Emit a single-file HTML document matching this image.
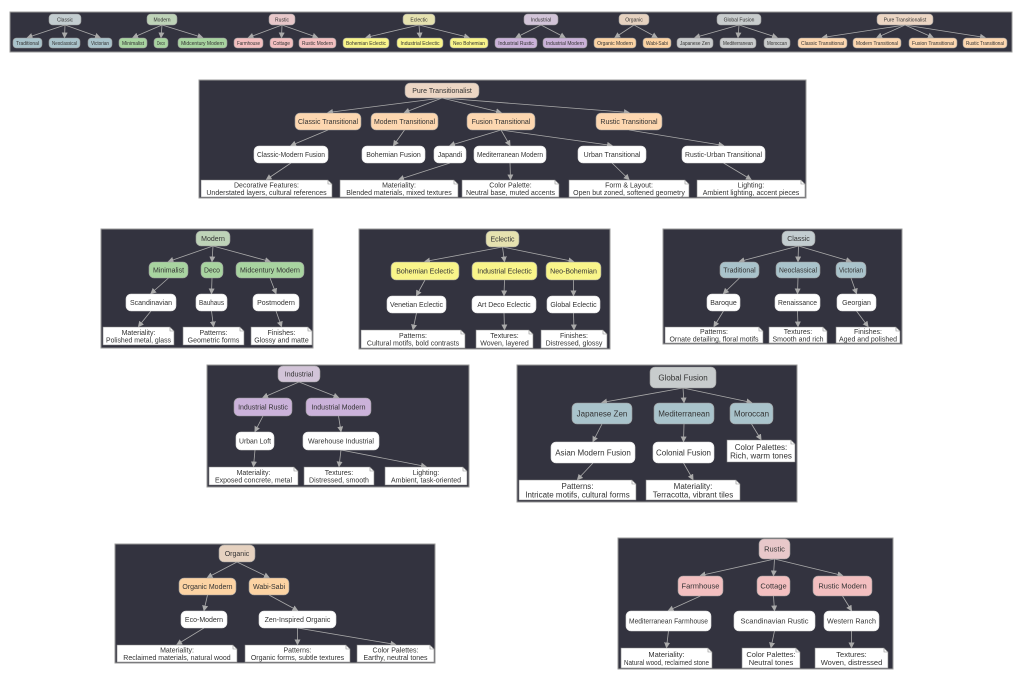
<!DOCTYPE html>
<html><head><meta charset="utf-8"><style>
html,body{margin:0;padding:0;background:#fff;width:1024px;height:682px;overflow:hidden}
svg text{font-family:"Liberation Sans",sans-serif;fill:#333}
</style></head><body>
<svg id="s" width="1024" height="682" xmlns="http://www.w3.org/2000/svg">
<defs><marker id="a" markerWidth="6" markerHeight="6" refX="5" refY="3" orient="auto" markerUnits="userSpaceOnUse"><path d="M0,0 L6,3 L0,6 z" fill="#aaa"/></marker></defs>
</svg>
<script>
var S=document.getElementById('s'),NS='http://www.w3.org/2000/svg';
function el(t,a,txt){var e=document.createElementNS(NS,t);for(var k in a)e.setAttribute(k,a[k]);if(txt!=null)e.textContent=txt;S.appendChild(e);return e;}
function fit(t,maxw){try{var l=t.getComputedTextLength();if(l>maxw){t.setAttribute('textLength',maxw);t.setAttribute('lengthAdjust','spacingAndGlyphs');}}catch(e){}}
var C={cl:'#a9c3cb',clr:'#c3cdd0',mo:'#a8d4a0',mor:'#bed3b8',ru:'#f3bfc0',rur:'#e8c8ca',ec:'#f9f58a',ecr:'#e6e2b0',in:'#cbb2da',inr:'#d2c4d8',or:'#fcd3a3',orr:'#e6d2c0',gf:'#c9cbcc',gfr:'#c8cccd',pt:'#fdd7b0',ptr:'#ecd6c4',w:'#fff'};
function panel(x1,y1,x2,y2,fs,nodes,edges){
 el('rect',{x:x1,y:y1,width:x2-x1,height:y2-y1,fill:'#33333f',stroke:'#999','stroke-width':1});
 var m={};nodes.forEach(function(n){m[n[0]]=n;});
 edges.forEach(function(e){var p=m[e[0]],c=m[e[1]];
  var px=(p[1]+p[3])/2,py=p[4],cx=(c[1]+c[3])/2,cy=c[2];
  el('line',{x1:px,y1:py,x2:cx,y2:cy-0.5,stroke:'#aaa','stroke-width':0.8,'marker-end':'url(#a)'});});
 nodes.forEach(function(n){var x=n[1],y=n[2],w=n[3]-n[1],h=n[4]-n[2],lab=n[5],f=n[6];
  if(f=='note'){var k=Math.min(4,h/4);
   el('path',{d:'M'+x+','+y+' h'+(w-k)+' l'+k+','+k+' v'+(h-k)+' h'+(-w)+' z',fill:'#fff',stroke:'#888','stroke-width':0.6});
   el('path',{d:'M'+(x+w-k)+','+y+' v'+k+' h'+k,fill:'none',stroke:'#888','stroke-width':0.6});
   var ls=lab.split('|');
   fit(el('text',{x:x+w/2,y:y+h/2-fs*0.15,'font-size':fs,'text-anchor':'middle'},ls[0]),w-6);
   fit(el('text',{x:x+w/2,y:y+h/2+fs*0.95,'font-size':fs,'text-anchor':'middle'},ls[1]),w-6);
  }else{
   el('rect',{x:x,y:y,width:w,height:h,rx:Math.min(5,h/3),fill:C[f],stroke:f=='w'?'#ddd':'#999','stroke-width':0.6});
   fit(el('text',{x:x+w/2,y:y+h/2+fs*0.35,'font-size':fs,'text-anchor':'middle'},lab),w-6);
  }});
}
/* top strip */
(function(){
 var N=[],E=[];var cy1=38,cy2=48,ry1=14,ry2=25;
 function g(id,cx,w,lab,col,kids){N.push([id,cx-w/2,ry1,cx+w/2,ry2,lab,col+'r']);kids.forEach(function(k,i){N.push([id+i,k[0],cy1,k[1],cy2,k[2],col]);E.push([id,id+i]);});}
 g('c',65,32,'Classic','cl',[[13,42,'Traditional'],[49,80,'Neoclassical'],[88,112,'Victorian']]);
 g('m',162,30,'Modern','mo',[[119,147,'Minimalist'],[154,168,'Deco'],[178,227,'Midcentury Modern']]);
 g('r',282,26,'Rustic','ru',[[234,263,'Farmhouse'],[270,293,'Cottage'],[299,336,'Rustic Modern']]);
 g('e',419,32,'Eclectic','ec',[[343,389,'Bohemian Eclectic'],[397,443,'Industrial Eclectic'],[450,488,'Neo Bohemian']]);
 g('i',541,34,'Industrial','in',[[495,537,'Industrial Rustic'],[543,587,'Industrial Modern']]);
 g('o',634,30,'Organic','or',[[594,636,'Organic Modern'],[643,671,'Wabi-Sabi']]);
 g('g',739,44,'Global Fusion','gf',[[677,713,'Japanese Zen'],[720,756,'Mediterranean'],[764,790,'Moroccan']]);
 g('p',905,56,'Pure Transitionalist','pt',[[798,847,'Classic Transitional'],[853,901,'Modern Transitional'],[909,957,'Fusion Transitional'],[963,1007,'Rustic Transitional']]);
 panel(10,12,1012,52,5,N,E);
})();
/* Pure Transitionalist */
panel(199,80,806,198,7,[
 ['R',405,83,479,98,'Pure Transitionalist','ptr'],
 ['a',295,113,361,130,'Classic Transitional','pt'],['b',371,113,438,130,'Modern Transitional','pt'],['c',467,113,535,130,'Fusion Transitional','pt'],['d',596,113,662,130,'Rustic Transitional','pt'],
 ['a1',254,146,328,163,'Classic-Modern Fusion','w'],['b1',362,146,425,163,'Bohemian Fusion','w'],['c1',434,146,466,163,'Japandi','w'],['c2',474,146,546,163,'Mediterranean Modern','w'],['c3',578,146,646,163,'Urban Transitional','w'],['d1',682,146,765,163,'Rustic-Urban Transitional','w'],
 ['n1',201,180,332,197,'Decorative Features:|Understated layers, cultural references','note'],['n2',340,180,458,197,'Materiality:|Blended materials, mixed textures','note'],['n3',462,180,559,197,'Color Palette:|Neutral base, muted accents','note'],['n4',569,180,689,197,'Form & Layout:|Open but zoned, softened geometry','note'],['n5',697,180,805,197,'Lighting:|Ambient lighting, accent pieces','note']
],[['R','a'],['R','b'],['R','c'],['R','d'],['a','a1'],['b','b1'],['c','c1'],['c','c2'],['c','c3'],['d','d1'],['a1','n1'],['c1','n2'],['c2','n3'],['c3','n4'],['d1','n5']]);
/* Modern */
panel(101,229,313,348,7,[
 ['R',196,231,230,246,'Modern','mor'],
 ['a',149,262,188,278,'Minimalist','mo'],['b',201,262,223,278,'Deco','mo'],['c',236,262,304,278,'Midcentury Modern','mo'],
 ['a1',126,294,176,311,'Scandinavian','w'],['b1',196,294,227,311,'Bauhaus','w'],['c1',253,294,299,311,'Postmodern','w'],
 ['n1',103,327,174,345,'Materiality:|Polished metal, glass','note'],['n2',183,327,244,345,'Patterns:|Geometric forms','note'],['n3',251,327,312,345,'Finishes:|Glossy and matte','note']
],[['R','a'],['R','b'],['R','c'],['a','a1'],['b','b1'],['c','c1'],['a1','n1'],['b1','n2'],['c1','n3']]);
/* Eclectic */
panel(359,229,610,349,7,[
 ['R',486,231,519,247,'Eclectic','ecr'],
 ['a',391,262,459,280,'Bohemian Eclectic','ec'],['b',472,262,537,280,'Industrial Eclectic','ec'],['c',546,262,601,280,'Neo-Bohemian','ec'],
 ['a1',387,296,446,313,'Venetian Eclectic','w'],['b1',472,296,536,313,'Art Deco Eclectic','w'],['c1',547,296,600,313,'Global Eclectic','w'],
 ['n1',361,330,465,348,'Patterns:|Cultural motifs, bold contrasts','note'],['n2',476,330,533,348,'Textures:|Woven, layered','note'],['n3',541,330,607,348,'Finishes:|Distressed, glossy','note']
],[['R','a'],['R','b'],['R','c'],['a','a1'],['b','b1'],['c','c1'],['a1','n1'],['b1','n2'],['c1','n3']]);
/* Classic */
panel(663,229,902,344,7,[
 ['R',782,231,815,246,'Classic','clr'],
 ['a',720,262,759,278,'Traditional','cl'],['b',776,262,820,278,'Neoclassical','cl'],['c',836,262,866,278,'Victorian','cl'],
 ['a1',707,294,740,311,'Baroque','w'],['b1',775,294,820,311,'Renaissance','w'],['c1',837,294,876,311,'Georgian','w'],
 ['n1',665,327,763,343,'Patterns:|Ornate detailing, floral motifs','note'],['n2',769,327,827,343,'Textures:|Smooth and rich','note'],['n3',836,327,900,343,'Finishes:|Aged and polished','note']
],[['R','a'],['R','b'],['R','c'],['a','a1'],['b','b1'],['c','c1'],['a1','n1'],['b1','n2'],['c1','n3']]);
/* Industrial */
panel(207,365,469,487,7,[
 ['R',278,366,320,382,'Industrial','inr'],
 ['a',234,398,292,416,'Industrial Rustic','in'],['b',306,398,371,416,'Industrial Modern','in'],
 ['a1',236,432,274,450,'Urban Loft','w'],['b1',303,432,379,450,'Warehouse Industrial','w'],
 ['n1',209,467,298,485,'Materiality:|Exposed concrete, metal','note'],['n2',304,467,374,485,'Textures:|Distressed, smooth','note'],['n3',385,467,467,485,'Lighting:|Ambient, task-oriented','note']
],[['R','a'],['R','b'],['a','a1'],['b','b1'],['a1','n1'],['b1','n2'],['b1','n3']]);
/* Global Fusion */
panel(517,365,797,502,8,[
 ['R',650,367,716,388,'Global Fusion','gfr'],
 ['a',572,403,632,424,'Japanese Zen','cl'],['b',654,403,714,424,'Mediterranean','cl'],['c',730,403,773,424,'Moroccan','cl'],
 ['a1',551,442,635,463,'Asian Modern Fusion','w'],['b1',653,442,714,463,'Colonial Fusion','w'],['c1',727,440,795,462,'Color Palettes:|Rich, warm tones','note'],
 ['n1',519,480,636,500,'Patterns:|Intricate motifs, cultural forms','note'],['n2',646,480,740,500,'Materiality:|Terracotta, vibrant tiles','note']
],[['R','a'],['R','b'],['R','c'],['a','a1'],['b','b1'],['c','c1'],['a1','n1'],['b1','n2']]);
/* Organic */
panel(115,544,435,663,7,[
 ['R',219,545,255,562,'Organic','orr'],
 ['a',179,578,236,595,'Organic Modern','or'],['b',249,578,289,595,'Wabi-Sabi','or'],
 ['a1',181,611,227,628,'Eco-Modern','w'],['b1',259,611,336,628,'Zen-Inspired Organic','w'],
 ['n1',117,645,237,662,'Materiality:|Reclaimed materials, natural wood','note'],['n2',245,645,350,662,'Patterns:|Organic forms, subtle textures','note'],['n3',357,645,434,662,'Color Palettes:|Earthy, neutral tones','note']
],[['R','a'],['R','b'],['a','a1'],['b','b1'],['a1','n1'],['b1','n2'],['b1','n3']]);
/* Rustic */
panel(618,538,893,669,7.5,[
 ['R',759,539,790,559,'Rustic','rur'],
 ['a',678,576,723,596,'Farmhouse','ru'],['b',757,576,790,596,'Cottage','ru'],['c',813,576,872,596,'Rustic Modern','ru'],
 ['a1',626,611,711,631,'Mediterranean Farmhouse','w'],['b1',734,611,815,631,'Scandinavian Rustic','w'],['c1',824,611,879,631,'Western Ranch','w'],
 ['n1',621,648,712,668,'Materiality:|Natural wood, reclaimed stone','note'],['n2',742,648,800,668,'Color Palettes:|Neutral tones','note'],['n3',815,648,888,668,'Textures:|Woven, distressed','note']
],[['R','a'],['R','b'],['R','c'],['a','a1'],['b','b1'],['c','c1'],['a1','n1'],['b1','n2'],['c1','n3']]);
</script>
</body></html>
